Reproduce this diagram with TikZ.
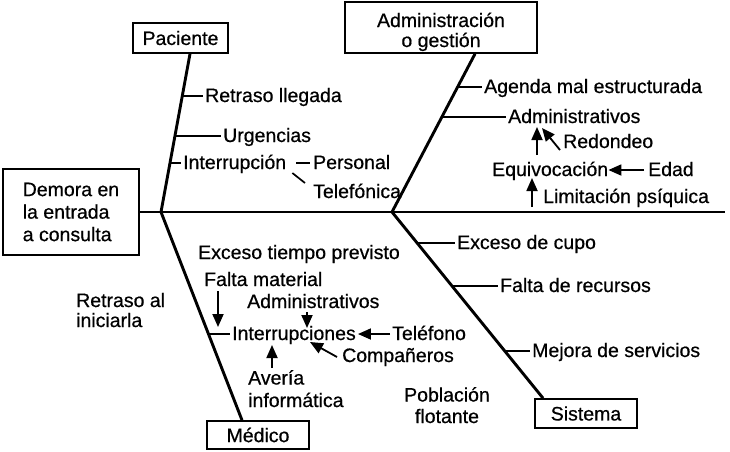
\documentclass[tikz,border=0pt]{standalone}
\usepackage{fontspec}
\setmainfont[FakeBold=0.6]{Liberation Sans}
\usetikzlibrary{arrows.meta,calc}
\begin{document}
\begin{tikzpicture}[x=1pt,y=-1pt,
  every node/.style={font=\fontsize{19.5}{22.5}\selectfont, inner sep=2pt},
  lbl/.style={anchor=base west},
  box/.style={draw, line width=1.7pt, inner sep=0pt, align=center},
  bone/.style={line width=2.9pt},
  tick/.style={line width=1.7pt},
  arr/.style={line width=1.8pt, -{Triangle[length=13pt,width=11pt]}}]
\fill[white] (0,0) rectangle (730,451);
\useasboundingbox (0,0) rectangle (730,451);

% boxes
\node[box, minimum width=136pt, minimum height=86pt, align=left] (dem) at (71,212) {Demora en\\la entrada\\a consulta};
\node[box, minimum width=95pt, minimum height=30pt] (pac) at (180.5,38) {Paciente};
\node[box, minimum width=192pt, minimum height=51pt] (adm) at (441,27.5) {};
\node[align=center, anchor=base] (admt) at (441,47) {Administración\\[-2.5pt]o gestión};
\node[box, minimum width=102pt, minimum height=28pt] (med) at (258,435) {Médico};
\node[box, minimum width=102pt, minimum height=29pt] (sis) at (586,413.5) {Sistema};

% spine and bones
\coordinate (J1) at (161,212);
\coordinate (J2) at (392,212);
\coordinate (E) at (725,212);
\draw[bone] (dem.east) -- (E);
\draw[bone] ([shift={(9.5,0)}]pac.south) -- (J1);
\draw[bone] ([shift={(34,0)}]adm.south) -- (J2);
\draw[bone] (J1) -- ([shift={(-16,0)}]med.north);
\draw[bone] (J2) -- ([shift={(-43,0)}]sis.north);

% labels
\node[lbl] (rl) at (203,102) {Retraso llegada};
\node[lbl] (urg) at (221,142) {Urgencias};
\node[lbl] (intp) at (181,169) {Interrupción};
\node[lbl] (pers) at (311,169) {Personal};
\node[lbl] (tel1) at (311,198) {Telefónica};
\node[lbl] (agm) at (482,93) {Agenda mal estructurada};
\node[lbl] (adm1) at (506,123) {Administrativos};
\node[lbl] (red) at (561,148) {Redondeo};
\node[lbl] (equ) at (490,176) {Equivocación};
\node[lbl] (edad) at (646,176) {Edad};
\node[lbl] (lim) at (541,203) {Limitación psíquica};
\node[lbl] (exc) at (455,249) {Exceso de cupo};
\node[lbl] (frec) at (498,292) {Falta de recursos};
\node[lbl] (mej) at (530,357) {Mejora de servicios};
\node[lbl,align=center,anchor=base] (pob) at (447,423) {Población\\[-1pt]flotante};
\node[lbl] (etp) at (196,259) {Exceso tiempo previsto};
\node[lbl] (fmat) at (202,286) {Falta material};
\node[lbl,align=left] (ret) at (74,327) {Retraso al\\[-2.5pt]iniciarla};
\node[lbl] (adm2) at (245,308) {Administrativos};
\node[lbl] (ints) at (230,340) {Interrupciones};
\node[lbl] (telf) at (390,340) {Teléfono};
\node[lbl] (comp) at (340,362) {Compañeros};
\node[lbl,align=left] (ave) at (246,407) {Avería\\informática};

% ticks
\coordinate (k1) at (182.1,96);
\coordinate (k2) at (174.8,136);
\coordinate (k3) at (169.8,163);
\coordinate (k4) at (457.1,87);
\coordinate (k5) at (441.4,117);
\coordinate (k6) at (417.7,243);
\coordinate (k7) at (452.2,286);
\coordinate (k8) at (504.4,351);
\coordinate (k9) at (208.9,334);
\draw[tick] (k1) -- (k1 -| rl.west);
\draw[tick] (k2) -- (k2 -| urg.west);
\draw[tick] (k3) -- (k3 -| intp.west);
\draw[tick] (k4) -- (k4 -| agm.west);
\draw[tick] (k5) -- (k5 -| adm1.west);
\draw[tick] (k6) -- (k6 -| exc.west);
\draw[tick] (k7) -- (k7 -| frec.west);
\draw[tick] (k8) -- (k8 -| mej.west);
\draw[tick] (k9) -- (k9 -| ints.west);
\draw[tick] ([shift={(8,-6)}]intp.base east) -- ([shift={(-1,-6)}]pers.base west);
\draw[tick] ([shift={(4,4)}]intp.base east) -- ([shift={(-6,-15)}]tel1.base west);

% arrows
\draw[arr] ([shift={(47,-21)}]equ.base west) -- ([shift={(31,4)}]adm1.base west);
\draw[arr] ([shift={(-1,2)}]red.base west) -- ([shift={(36,5)}]adm1.base west);
\draw[arr] ([shift={(-2,-6)}]edad.base west) -- ([shift={(-2,-6)}]equ.base east);
\draw[arr] ([shift={(-9,4)}]lim.base west) -- ([shift={(42,2)}]equ.base west);
\draw[arr] ([shift={(16,5)}]fmat.base west) -- ([shift={(-12,-13)}]ints.base west);
\draw[arr] ([shift={(62,4)}]adm2.base west) -- ([shift={(77,-12)}]ints.base west);
\draw[arr] ([shift={(0,-6)}]telf.base west) -- ([shift={(0,-6)}]ints.base east);
\draw[arr] ([shift={(-3,-5)}]comp.base west) -- ([shift={(80,2)}]ints.base west);
\draw[arr] ([shift={(26,-39)}]ave.base west) -- ([shift={(42,5)}]ints.base west);
\end{tikzpicture}
\end{document}
